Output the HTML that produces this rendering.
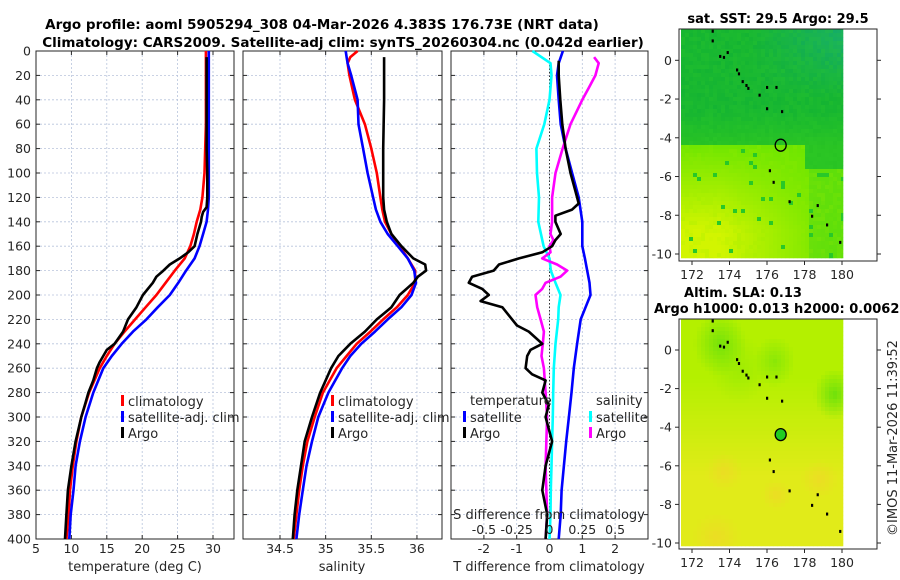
<!DOCTYPE html>
<html><head><meta charset="utf-8"><style>
body{margin:0;background:#fff}
svg{display:block;font-family:"DejaVu Sans","Liberation Sans",sans-serif}
</style></head><body>
<svg id="fig" width="900" height="580" viewBox="0 0 900 580">
<text x="322" y="29" text-anchor="middle" font-size="13.5" font-weight="bold" fill="#000">Argo profile: aoml 5905294_308 04-Mar-2026 4.383S 176.73E (NRT data)</text>
<text x="343" y="47" text-anchor="middle" font-size="13.5" font-weight="bold" fill="#000">Climatology: CARS2009. Satellite-adj clim: synTS_20260304.nc (0.042d earlier)</text>
<g id="p1"></g>
<g id="p2"></g>
<g id="p3"></g>
<g id="m1"></g>
<g id="m2"></g>
<text x="778" y="23" text-anchor="middle" font-size="13" font-weight="bold">sat. SST: 29.5 Argo: 29.5</text>
<text x="743" y="297" text-anchor="middle" font-size="13" font-weight="bold">Altim. SLA: 0.13</text>
<text x="654" y="313" font-size="13" font-weight="bold">Argo h1000: 0.013 h2000: 0.0062</text>
<text transform="translate(897,438) rotate(-90)" text-anchor="middle" font-size="13" fill="#262626">©IMOS 11-Mar-2026 11:39:52</text>
</svg>
<script>
// ---------- data ----------
const depthT = [0,20,40,60,80,100,120,130,140,150,160,170,180,190,200,210,220,230,240,250,260,280,300,320,340,360,380,400];
const tempClim = [29.0,29.0,29.0,29.0,28.9,28.8,28.5,28.2,27.7,27.3,26.8,26.0,24.6,23.3,22.0,20.5,19.0,17.5,16.1,15.0,14.0,12.5,11.4,10.7,10.2,9.8,9.6,9.3];
const tempSat = [29.4,29.4,29.4,29.4,29.4,29.4,29.4,29.3,29.1,28.6,28.1,27.4,26.2,25.1,23.9,22.2,20.6,18.7,17.1,15.7,14.5,13.1,12.0,11.2,10.6,10.3,9.9,9.7];
const depthA = [5,20,40,60,80,100,120,128,132,136,140,150,160,165,170,175,180,185,190,200,210,220,230,240,245,255,260,270,280,290,300,320,340,360,380,400];
const tempArgo = [29.1,29.1,29.1,29.1,29.1,29.2,29.2,29.1,28.6,28.4,28.3,27.8,27.4,26.5,25.3,23.9,23.0,22.0,21.5,20.1,19.2,18.0,17.3,16.1,15.0,14.0,13.6,13.1,12.4,11.9,11.4,10.6,10.0,9.5,9.3,9.1];
const depthS = [0,5,10,20,40,60,80,100,120,130,140,150,160,170,180,190,200,210,220,230,240,250,260,280,300,320,340,360,380,400];
const salClim = [35.35,35.27,35.24,35.26,35.32,35.43,35.50,35.56,35.60,35.62,35.65,35.72,35.81,35.90,35.98,35.98,35.90,35.78,35.63,35.49,35.34,35.23,35.12,34.97,34.88,34.80,34.75,34.71,34.68,34.65];
const salSat = [35.22,35.23,35.24,35.28,35.35,35.36,35.41,35.46,35.52,35.55,35.60,35.68,35.79,35.90,35.97,35.99,35.94,35.83,35.68,35.54,35.39,35.27,35.18,35.03,34.92,34.85,34.79,34.75,34.71,34.68];
const depthSA = [5,40,80,120,130,140,150,160,170,175,180,185,190,200,210,220,230,240,250,260,280,300,320,340,360,380,400];
const salArgo = [35.64,35.64,35.63,35.63,35.64,35.67,35.72,35.83,35.96,36.09,36.10,36.01,35.96,35.81,35.72,35.56,35.43,35.27,35.14,35.06,34.94,34.85,34.77,34.73,34.69,34.66,34.64];
const depthD = [0,10,20,40,60,80,100,120,140,160,170,180,190,200,210,220,240,260,280,300,320,340,360,380,400];
const dTsat = [0.41,0.28,0.23,0.28,0.34,0.49,0.69,0.89,1.0,1.0,1.08,1.15,1.22,1.25,1.1,0.95,0.84,0.74,0.67,0.59,0.51,0.44,0.37,0.34,0.28];
const dSsat = [-0.13,0.008,0.015,0.0,-0.04,-0.10,-0.095,-0.08,-0.085,-0.045,0.0,0.01,0.046,0.084,0.07,0.066,0.046,0.033,0.028,0.025,0.02,0.015,0.01,0.008,0.0];
const depthDA = [8,20,40,60,80,100,110,120,125,130,135,140,150,155,160,165,170,175,180,185,190,195,200,205,210,220,225,230,240,245,250,260,265,270,280,290,300,320,340,360,380,400];
const dTargo = [0.28,0.28,0.33,0.39,0.49,0.64,0.74,0.84,0.89,0.69,0.18,0.18,0.34,0.18,0.08,-0.22,-0.93,-1.54,-1.7,-2.36,-2.46,-2.05,-1.85,-2.1,-1.44,-1.14,-0.99,-0.63,-0.22,-0.58,-0.68,-0.73,-0.53,-0.12,-0.22,-0.02,-0.12,0.08,-0.12,-0.22,-0.07,-0.12];
const depthDS = [5,10,20,30,40,60,80,100,120,140,150,155,160,165,170,175,180,185,190,195,200,210,220,230,240,250,260,280,300,340,380,400];
const dSargo = [0.34,0.375,0.35,0.30,0.25,0.16,0.10,0.046,0.02,0.02,0.008,0.03,0.0,0.008,-0.056,0.058,0.135,0.084,-0.03,-0.056,-0.107,-0.094,-0.068,-0.043,-0.051,-0.061,-0.043,-0.03,-0.018,-0.03,-0.018,-0.03];
const depthTicks = [0,20,40,60,80,100,120,140,160,180,200,220,240,260,280,300,320,340,360,380,400];
const tempTicks = [5,10,15,20,25,30];
const salTicks = [34.5,35,35.5,36];
const tdTicks = [-2,-1,0,1,2];
const sdTicks = [-0.5,-0.25,0,0.25,0.5];
const sdTickLabels = ['-0.5','-0.25','0','0.25','0.5'];
const lonTicks = [172,174,176,178,180];
const latTicks = [0,-2,-4,-6,-8,-10];
// ---------- helpers ----------
const NS='http://www.w3.org/2000/svg';
function el(tag,attrs,parent,text){const e=document.createElementNS(NS,tag);for(const k in attrs)e.setAttribute(k,attrs[k]);if(text!==undefined)e.textContent=text;parent.appendChild(e);return e;}
const Y0=51,Y1=539;
const yD=d=>Y0+(d/400)*(Y1-Y0);
const TC='#262626';
function panel(g,x0,x1,xf,xticks,xlabels,ylabels){
  depthTicks.forEach(d=>{
    const gl=el('line',{x1:x0,x2:x1,y1:yD(d),y2:yD(d),stroke:'#b8c4dc','stroke-width':0.8,'stroke-dasharray':'2,2'},g);
    
    el('line',{x1:x0,x2:x0+4,y1:yD(d),y2:yD(d),stroke:TC},g);
    el('line',{x1:x1-4,x2:x1,y1:yD(d),y2:yD(d),stroke:TC},g);
    if(ylabels){const t=el('text',{x:x0-5,y:yD(d)+4.5,'text-anchor':'end','font-size':12.5,fill:TC},g,String(d));
      }
  });
  xticks.forEach((v,i)=>{const x=xf(v);
    const gl=el('line',{x1:x,x2:x,y1:Y0,y2:Y1,stroke:'#b8c4dc','stroke-width':0.8,'stroke-dasharray':'2,2'},g);
    
    el('line',{x1:x,x2:x,y1:Y1,y2:Y1-4,stroke:TC},g);el('line',{x1:x,x2:x,y1:Y0,y2:Y0+4,stroke:TC},g);
    const t=el('text',{x:x,y:Y1+14,'text-anchor':'middle','font-size':12.5,fill:TC},g,xlabels[i]);
    });
  const b=el('rect',{x:x0,y:Y0,width:x1-x0,height:Y1-Y0,fill:'none',stroke:TC,'stroke-width':1},g);
  
}
function line(g,xs,ds,xf,color,name,w){
  const pts=xs.map((v,i)=>xf(v).toFixed(1)+','+yD(ds[i]).toFixed(1)).join(' ');
  const p=el('polyline',{points:pts,fill:'none',stroke:color,'stroke-width':w||2.6,'stroke-linejoin':'round'},g);
  
}
function legendItem(g,x,y,color,label,name){
  el('rect',{x:x,y:y-6,width:3,height:11,fill:color},g);
  const t=el('text',{x:x+7,y:y+5,'font-size':13,fill:TC},g,label);
  
}
// ---------- panel 1 ----------
const p1=document.getElementById('p1');
const xT=v=>36+(v-5)*7.08;
panel(p1,36,234,xT,tempTicks,tempTicks.map(String),true);
line(p1,tempClim,depthT,xT,'#ff0000','temp-climatology-line');
line(p1,tempSat,depthT,xT,'#0000ff','temp-satellite-line');
line(p1,tempArgo,depthA,xT,'#000000','temp-argo-line');
let t=el('text',{x:135,y:571,'text-anchor':'middle','font-size':13,fill:TC},p1,'temperature (deg C)');

legendItem(p1,121,401,'#ff0000','climatology','legend-climatology');
legendItem(p1,121,417,'#0000ff','satellite-adj. clim','legend-satellite');
legendItem(p1,121,433,'#000000','Argo','legend-argo');
// ---------- panel 2 ----------
const p2=document.getElementById('p2');
const xS=v=>280+(v-34.5)*91.3;
panel(p2,243,442,xS,salTicks,salTicks.map(String),false);
line(p2,salClim,depthS,xS,'#ff0000','sal-climatology-line');
line(p2,salSat,depthS,xS,'#0000ff','sal-satellite-line');
line(p2,salArgo,depthSA,xS,'#000000','sal-argo-line');
t=el('text',{x:342,y:571,'text-anchor':'middle','font-size':13,fill:TC},p2,'salinity');

legendItem(p2,331,401,'#ff0000','climatology','legend-climatology');
legendItem(p2,331,417,'#0000ff','satellite-adj. clim','legend-satellite');
legendItem(p2,331,433,'#000000','Argo','legend-argo');
// ---------- panel 3 ----------
const p3=document.getElementById('p3');
const xD=v=>549.5+v*32.8;
const xSD=v=>549.5+v*4*32.8;
panel(p3,451,648,xD,tdTicks,tdTicks.map(String),false);
el('line',{x1:549.5,x2:549.5,y1:Y0,y2:Y1,stroke:'#333','stroke-width':1,'stroke-dasharray':'1.5,2'},p3);
line(p3,dTsat,depthD,xD,'#0000ff','tdiff-satellite-line');
line(p3,dSsat,depthD,xSD,'#00ffff','sdiff-satellite-line');
line(p3,dSargo,depthDS,xSD,'#ff00ff','sdiff-argo-line');
line(p3,dTargo,depthDA,xD,'#000000','tdiff-argo-line');
t=el('text',{x:549,y:571,'text-anchor':'middle','font-size':13,fill:TC},p3,'T difference from climatology');

t=el('text',{x:549,y:519,'text-anchor':'middle','font-size':13,fill:TC},p3,'S difference from climatology');

sdTicks.forEach((v,i)=>{const tt=el('text',{x:xSD(v),y:534,'text-anchor':'middle','font-size':12.5,fill:TC},p3,sdTickLabels[i]);
  });
t=el('text',{x:470,y:405,'font-size':13,fill:TC},p3,'temperature');

t=el('text',{x:596,y:405,'font-size':13,fill:TC},p3,'salinity');

legendItem(p3,463,417,'#0000ff','satellite','legend-t-satellite');
legendItem(p3,463,433,'#000000','Argo','legend-t-argo');
legendItem(p3,589,417,'#00ffff','satellite','legend-s-satellite');
legendItem(p3,589,433,'#ff00ff','Argo','legend-s-argo');
// ---------- maps ----------
function hash(i,j,s){let h=(i*374761393+j*668265263+s*982451653)|0;h=(h^(h>>>13))*1274126177;h=h^(h>>>16);return ((h>>>0)%1000)/1000;}
function mix(a,b,f){f=Math.max(0,Math.min(1,f));return a.map((v,k)=>Math.round(v+(b[k]-v)*f));}
function rgb(c){return 'rgb('+c.join(',')+')';}
function mapFrame(g,top,bot,lat0y,latScale,colorFn,circleFill){
  const lx=v=>692+(v-172)*18.75, ly=v=>lat0y-v*latScale;
  const cx0=681,cx1=843,cy0=top,cy1=bot-3;
  const cs=4;
  for(let y=cy0,j=0;y<cy1;y+=cs,j++){for(let x=cx0,i=0;x<cx1;x+=cs,i++){
    const lon=172+(x+cs/2-692)/18.75, lat=-(y+cs/2-lat0y)/latScale;
    el('rect',{x:x,y:y,width:Math.min(cs,cx1-x)+0.3,height:Math.min(cs,cy1-y)+0.3,fill:rgb(colorFn(lon,lat,i,j))},g);
  }}
  [[173.1,1.5],[173.1,1.0],[173.5,0.2],[173.7,0.15],[173.9,0.4],[174.4,-0.5],[174.5,-0.7],[174.7,-1.1],[174.9,-1.3],[175.0,-1.45],[175.6,-1.8],[176.0,-1.4],[176.5,-1.4],[176.0,-2.5],[176.8,-2.65],[176.15,-5.7],[176.35,-6.3],[177.2,-7.3],[178.4,-8.05],[178.7,-7.5],[179.2,-8.5],[179.9,-9.4]].forEach(p=>{
    el('rect',{x:lx(p[0])-1,y:ly(p[1])-1.5,width:2.2,height:3,fill:'#000'},g);});
  const c=el('ellipse',{cx:lx(176.73),cy:ly(-4.383),rx:5.5,ry:6,fill:circleFill,stroke:'#000','stroke-width':1.3},g);
  
  const fr=el('rect',{x:679,y:top,width:198,height:bot-top,fill:'none',stroke:TC,'stroke-width':1},g);
  
  lonTicks.forEach(v=>{el('line',{x1:lx(v),x2:lx(v),y1:bot,y2:bot+4,stroke:TC},g);
    const tt=el('text',{x:lx(v),y:bot+18,'text-anchor':'middle','font-size':12.5,fill:TC},g,String(v));
    });
  latTicks.forEach(v=>{el('line',{x1:675,x2:679,y1:ly(v),y2:ly(v),stroke:TC},g);el('line',{x1:877,x2:881,y1:ly(v),y2:ly(v),stroke:TC},g);
    const tt=el('text',{x:672,y:ly(v)+4.5,'text-anchor':'end','font-size':12.5,fill:TC},g,String(v));
    });
}
const m1=document.getElementById('m1');
mapFrame(m1,29,261,60.3,19.37,(lon,lat,i,j)=>{
  const r=hash(i,j,1);
  const bound = lon>178?-5.6:-4.3;
  if(lat>bound){
    const f=Math.max(0,Math.min(1,(lon-175)/5))*Math.max(0,Math.min(1,(lat+2)/3));
    let c=mix([20,180,50],[20,170,120],f*0.8);
    if(lat<-2.5) c=mix(c,[40,195,35],(-2.5-lat)/2);
    return mix(c,[50,205,40],r*0.3);
  }
  let f=Math.max(0,Math.min(1,(-lat-4.3)/4.5))*Math.max(0,Math.min(1,(179.5-lon)/6));
  let c=mix([110,230,0],[210,245,0],f);
  if(lon>178.2 && lat<-5.6) c=mix(c,[80,215,20],0.5);
  if(r>0.965) c=[40,200,40]; else c=mix(c,[150,235,0],(r-0.5)*0.5);
  return c;
},'none');
const m2=document.getElementById('m2');
mapFrame(m2,319,549,350,19.3,(lon,lat)=>{
  let f=(-lat-1.5)/5;
  let c=mix([180,240,0],[225,235,25],f);
  const blobs=[[173.5,0.3,1.4,0.9],[176.4,-0.6,1.1,0.6],[179.6,-2.3,1.1,1.0],[174.5,-1,1.5,0.3]];
  blobs.forEach(b=>{const d=Math.hypot((lon-b[0])/b[2],(lat-b[1])/(b[2]*1.2));if(d<1)c=mix(c,[110,225,10],(1-d)*b[3]);});
  const ob=[[173.3,-9.7,1.3],[178.8,-6.7,1.0],[173.7,-6.3,1.0],[176.5,-7.5,0.8]];
  ob.forEach(b=>{const d=Math.hypot((lon-b[0])/b[2],(lat-b[1])/b[2]);if(d<1)c=mix(c,[240,215,40],(1-d)*0.7);});
  return c;
},'#22cc22');
</script>
</body></html>
